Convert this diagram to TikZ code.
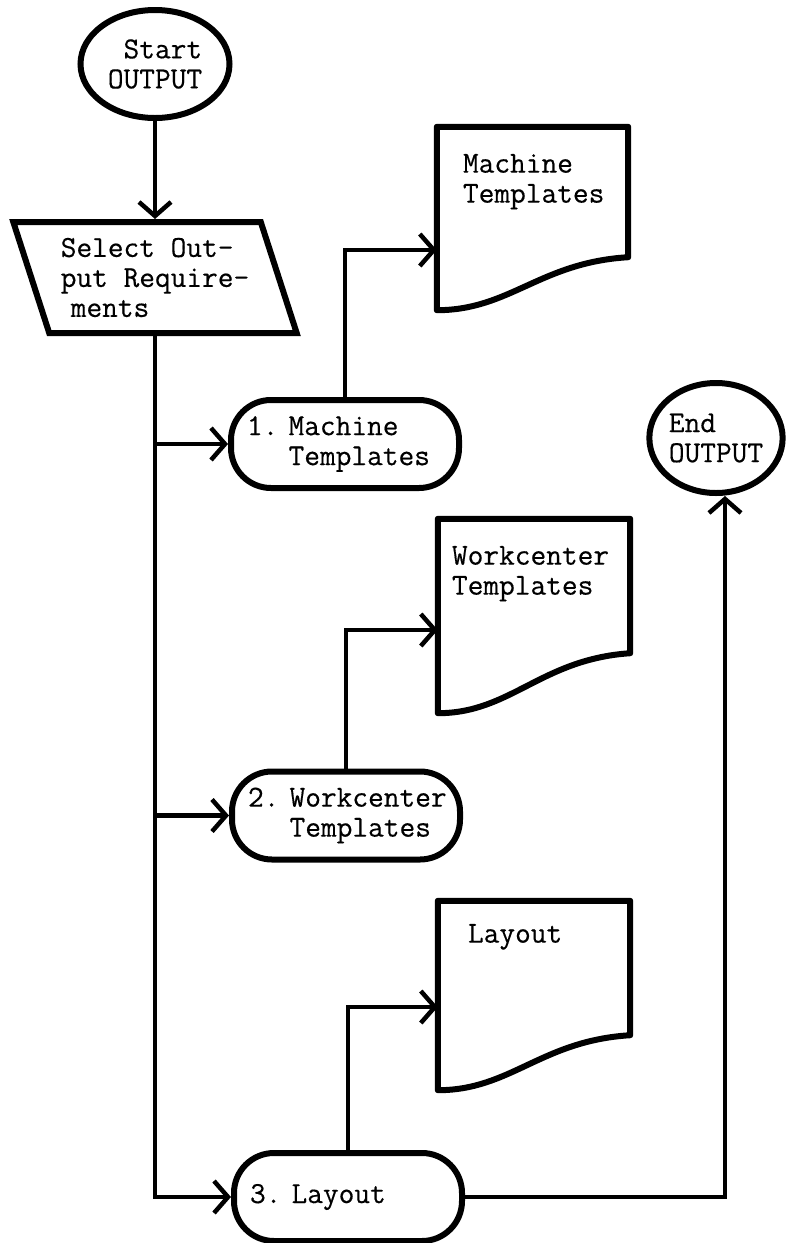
\documentclass[tikz,border=0pt]{standalone}
\usepackage{fontspec}
\setmonofont{Latin Modern Mono}[FakeBold=0.4]
\usetikzlibrary{shapes.geometric,arrows.meta,calc}

% bottom edge of a document symbol: flat at the left, rising in an S to the right side
\newcommand\docshape[2]{%
  \draw[outline, line join=round]
    (#1.north west) -- (#1.north east) -- ([yshift=#2pt]#1.south east)
    .. controls ($(#1.south west)+(103,{-0.9*#2})$) and ($(#1.south west)+(73,0)$)
    .. (#1.south west) -- cycle;}

\begin{document}
\begin{tikzpicture}[x=1pt,y=-1pt,
  every node/.style={font=\fontsize{30.5}{30}\selectfont\ttfamily, inner sep=0pt},
  outline/.style={draw=black, line width=6pt},
  conn/.style={draw=black, line width=4.5pt},
  arr/.style={conn, -{Straight Barb[length=14pt,width=32pt]}},
  term/.style={outline, rounded corners=40pt, minimum width=228pt,
    minimum height=88pt, text width=196pt, inner xsep=16pt, align=left},
  oval/.style={outline, ellipse},
  docbox/.style={draw=none, rectangle},
  doctext/.style={anchor=north west, align=left}]

\useasboundingbox (0,0) rectangle (785,1243);

% terminals
\node[oval, minimum width=149pt, minimum height=108pt, align=right] (start) at (155,64) {Start\\OUTPUT};
\node[oval, minimum width=132pt, minimum height=110pt, align=left] (end) at (716,438) {End\\OUTPUT};

% input step
\node[outline, trapezium, trapezium left angle=112, trapezium right angle=68,
      trapezium stretches=true, minimum width=284pt, minimum height=111pt, align=left]
  (sel) at (155,277.5) {Select Out-\\put Require-\\\hspace*{10pt}ments};

% output options
\node[term] (t1) at (345,444) {1.~Machine\\\phantom{1.~}Templates};
\node[term] (t2) at (346,815.5) {2.~Workcenter\\\phantom{2.~}Templates};
\node[term] (t3) at (348,1197) {3.~Layout};

% printed documents
\node[docbox, minimum width=191pt, minimum height=183pt] (doc1) at (532.5,218.5) {};
\node[docbox, minimum width=192pt, minimum height=194pt] (doc2) at (534,616) {};
\node[docbox, minimum width=192pt, minimum height=189pt] (doc3) at (534,995.5) {};
\docshape{doc1}{53}
\docshape{doc2}{60}
\docshape{doc3}{55}
\node[doctext] (doc1t) at ($(doc1.north west)+(26,27)$) {Machine\\Templates};
\node[doctext] (doc2t) at ($(doc2.north west)+(14,27)$) {Workcenter\\Templates};
\node[doctext] (doc3t) at ($(doc3.north west)+(30,23)$) {Layout};

\coordinate (d1in) at (doc1.west |- 0,250);
\coordinate (d2in) at (doc2.west |- 0,630);
\coordinate (d3in) at (doc3.west |- 0,1007);
\coordinate (trunk) at (start.south |- sel.south);

% connectors
\draw[arr] (start.south) -- (start.south |- sel.north);
\draw[arr] (trunk) |- (t3.west);
\draw[arr] (trunk |- t1.west) -- (t1.west);
\draw[arr] (trunk |- t2.west) -- (t2.west);
\draw[arr] (t1.north) |- (d1in);
\draw[arr] (t2.north) |- (d2in);
\draw[arr] (t3.north) |- (d3in);
\draw[arr] (t3.east) -| ([xshift=9pt]end.south);
\end{tikzpicture}
\end{document}
